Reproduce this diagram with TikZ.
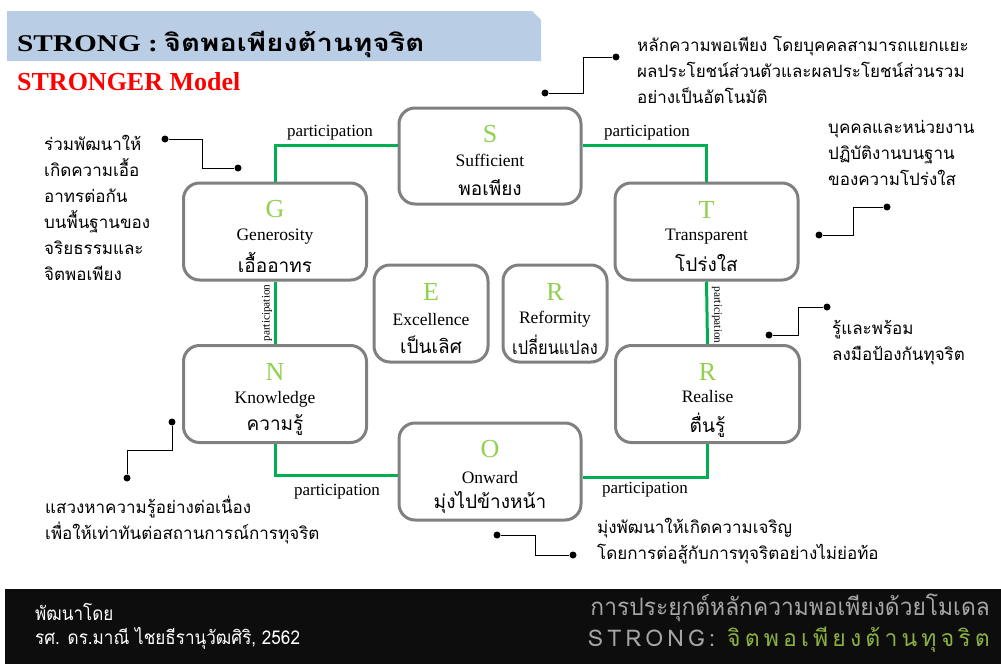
\documentclass[tikz,border=0pt]{standalone}
\usepackage{fontspec}
\usetikzlibrary{calc}
\setmainfont{Liberation Serif}
\newfontfamily\thai[Script=Thai]{Loma}
\newfontfamily\titlefont[Script=Thai,FakeStretch=1.22]{Loma}
\newfontfamily\titlelat[FakeStretch=1.22]{Liberation Serif}
\newfontfamily\thaicond[Script=Thai,FakeStretch=0.9]{Loma}
\newfontfamily\thainarrow[Script=Thai,FakeStretch=0.86]{Loma}
\newfontfamily\thaicondb[Script=Thai,FakeStretch=0.95]{Loma}
\newfontfamily\thaisp[Script=Thai,LetterSpace=18]{Loma}
\definecolor{bandblue}{HTML}{B9CDE5}
\definecolor{boxgray}{HTML}{808080}
\definecolor{lgreen}{HTML}{00B050}
\definecolor{letgreen}{HTML}{92D050}
\definecolor{footbg}{HTML}{0D0D0D}
\definecolor{footgray}{HTML}{A6A6A6}
\definecolor{footgreen}{HTML}{8CB040}
\tikzset{
  sbox/.style={draw=boxgray, line width=3pt, rounded corners=16pt, fill=white, inner sep=0pt},
  letter/.style={text=letgreen, font=\fontsize{26}{26}\selectfont, inner sep=0pt},
  entext/.style={font=\fontsize{17.5}{17.5}\selectfont, inner sep=0pt},
  thtext/.style={font=\thai\fontsize{19}{19}\selectfont, inner sep=0pt},
  gline/.style={draw=lgreen, line width=3pt},
  part/.style={font=\fontsize{17}{17}\selectfont, inner sep=0pt},
  vpart/.style={font=\fontsize{11.3}{11.3}\selectfont, inner sep=0pt},
  note/.style={font=\thai\fontsize{17}{26}\selectfont, align=left, anchor=north west, inner sep=0pt},
  dot/.style={circle, fill=black, inner sep=0pt, minimum size=7pt},
  nline/.style={draw=black, line width=0.8pt},
}
\newcommand{\StrBox}[9]{%
  \node[sbox, minimum width=#4pt, minimum height=#5pt] (#1) at (#2,#3) {};
  \node[letter] (#1l) at (#2,#3-22) {#6};
  \node[entext] (#1e) at (#2,#3+4+#9) {#7};
  \node[thtext] (#1t) at (#2,#3+31) {#8};
}
\begin{document}
\begin{tikzpicture}[x=1pt,y=-1pt]
\useasboundingbox (0,0) rectangle (1001,664);
\fill[white] (0,0) rectangle (1001,664);
% header
\fill[bandblue] (7,11) -- (532,11) -- (541,20) -- (541,61) -- (7,61) -- cycle;
\node[anchor=base west, inner sep=0pt] (title) at (17,51) {\fontsize{24}{24}\selectfont\bfseries {\titlelat STRONG :} {\titlefont จิตพอเพียงต้านทุจริต}};
\node[anchor=west, inner sep=0pt, text=red] (model) at (17,82) {\fontsize{26}{26}\selectfont\bfseries STRONGER Model};
% boxes
\StrBox{S}{490}{156}{182}{96}{S}{Sufficient}{พอเพียง}{0}
\StrBox{G}{275}{231.5}{183}{97}{G}{Generosity}{เอื้ออาทร}{1}
\StrBox{T}{706.5}{231.5}{183}{97}{T}{Transparent}{โปร่งใส}{1}
\StrBox{N}{275}{394}{183}{97}{N}{Knowledge}{ความรู้}{1}
\StrBox{R}{707.5}{394}{184}{97}{R}{Realise}{ตื่นรู้}{-1}
\StrBox{O}{490}{471.5}{182}{97}{O}{Onward}{มุ่งไปข้างหน้า}{2}
\StrBox{E}{431}{313.5}{114}{97}{E}{Excellence}{เป็นเลิศ}{2}
\StrBox{F}{555}{313.5}{104}{97}{R}{Reformity}{{\thainarrow เปลี่ยนแปลง}}{2}
% green connectors
\draw[gline] (S.west) ++(0,-11) -| (G.north);
\draw[gline] (S.east) ++(0,-11) -| (T.north);
\draw[gline] (G.south) -- (N.north);
\draw[gline] (T.south) -- (R.north);
\draw[gline] (N.south) |- ($(O.west)+(0,4)$);
\draw[gline] (R.south) |- ($(O.east)+(0,6)$);
\node[part] (p1) at (330,133) {participation};
\node[part] (p2) at (647,133) {participation};
\node[part] (p3) at (337,492) {participation};
\node[part] (p4) at (645,490) {participation};
\node[vpart, rotate=90] (p5) at (267,313) {participation};
\node[vpart, rotate=-90] (p6) at (717,315) {participation};
% annotations
\node[note] (nS) at (637,36) {หลักความพอเพียง โดยบุคคลสามารถแยกแยะ\\ผลประโยชน์ส่วนตัวและผลประโยชน์ส่วนรวม\\อย่างเป็นอัตโนมัติ};
\node[dot] (sa) at (545,93) {};
\node[dot] (sb) at (616,57) {};
\draw[nline] (sa) -- ++(38,0) |- (sb);
\node[note] (nG) at (44,135) {ร่วมพัฒนาให้\\เกิดความเอื้อ\\อาทรต่อกัน\\บนพื้นฐานของ\\จริยธรรมและ\\จิตพอเพียง};
\node[dot] (ga) at (165,139) {};
\node[dot] (gb) at (238,168) {};
\draw[nline] (ga) -- ++(37,0) |- (gb);
\node[note] (nT) at (828,120) {บุคคลและหน่วยงาน\\ปฏิบัติงานบนฐาน\\ของความโปร่งใส};
\node[dot] (ta) at (819,235) {};
\node[dot] (tb) at (887,207) {};
\draw[nline] (ta) -- ++(34,0) |- (tb);
\node[note] (nR) at (832,320) {รู้และพร้อม\\ลงมือป้องกันทุจริต};
\node[dot] (ra) at (769,335) {};
\node[dot] (rb) at (827,307) {};
\draw[nline] (ra) -- ++(29,0) |- (rb);
\node[note] (nN) at (45,496) {แสวงหาความรู้อย่างต่อเนื่อง\\เพื่อให้เท่าทันต่อสถานการณ์การทุจริต};
\node[dot] (na) at (172,422) {};
\node[dot] (nb) at (127,478) {};
\draw[nline] (na) -- ++(0,28) -| (nb);
\node[note] (nO) at (597,518) {มุ่งพัฒนาให้เกิดความเจริญ\\โดยการต่อสู้กับการทุจริตอย่างไม่ย่อท้อ};
\node[dot] (oa) at (497,535) {};
\node[dot] (ob) at (573,555) {};
\draw[nline] (oa) -- ++(38,0) |- (ob);
% footer
\fill[footbg] (5,589) rectangle (1001,664);
\node[anchor=west, inner sep=0pt, text=white] (f1) at (35,612) {\thaicond\fontsize{19}{19}\selectfont พัฒนาโดย};
\node[anchor=west, inner sep=0pt, text=white] (f2) at (35,638) {\thaicond\fontsize{19}{19}\selectfont รศ. ดร.มาณี ไชยธีรานุวัฒศิริ, 2562};
\node[anchor=east, inner sep=0pt, text=footgray] (f3) at (990,608) {\thaicondb\fontsize{24}{24}\selectfont การประยุกต์หลักความพอเพียงด้วยโมเดล};
\node[anchor=east, inner sep=0pt, text=footgray] (f4) at (990,640) {\thaisp\fontsize{23}{23}\selectfont STRONG: \textcolor{footgreen}{จิตพอเพียงต้านทุจริต}};
\end{tikzpicture}
\end{document}
